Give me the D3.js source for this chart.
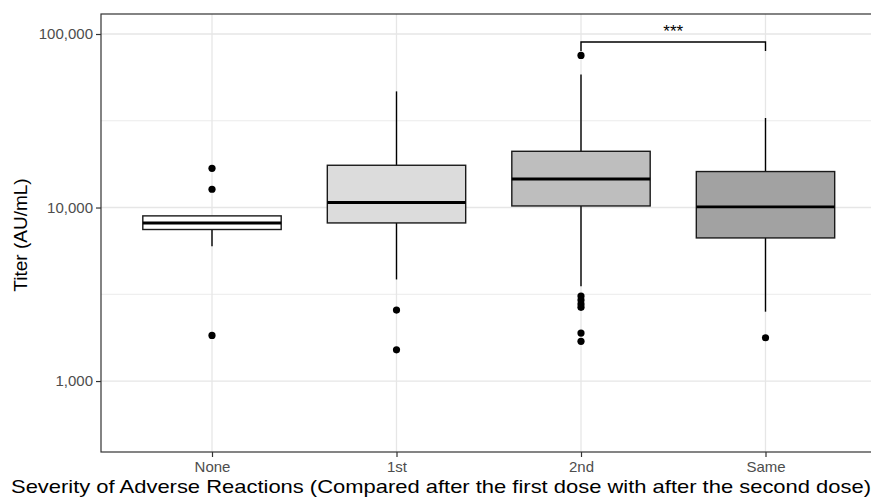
<!DOCTYPE html>
<html><head><meta charset="utf-8">
<script src="https://cdn.jsdelivr.net/npm/d3@7"></script>
<style>body{margin:0;background:#fff}svg{display:block;font-family:"Liberation Sans",Arial,sans-serif}</style>
</head><body><svg id="c" width="871" height="499"></svg>
<script>
const categories = ["None", "1st", "2nd", "Same"];
const fills = ["#ffffff", "#dcdcdc", "#bebebe", "#a2a2a2"];
const q1 = [7470, 8150, 10210, 6680];
const medians = [8150, 10690, 14610, 10080];
const q3 = [8950, 17520, 21090, 16120];
const whiskerLow = [5980, 3850, 3520, 2510];
const whiskerHigh = [8950, 46700, 58500, 32800];
const outliers = [
  [16830, 12740, 1833],
  [2564, 1513],
  [75300, 3090, 2930, 2780, 2660, 1890, 1693],
  [1776]
];
const yTicks = [1000, 10000, 100000];
const yMinor = [3162, 31623];
const sig = {from: "2nd", to: "Same", y: 90000, label: "***"};

const svg = d3.select("#c");
const L = 101, T = 14, B = 452, R = 876;
const x = d3.scalePoint().domain(categories).range([212, 765.5]);
const step = x.step();
const y = d3.scaleLog().domain([390, 130400]).range([B, T]);

const g = svg.append("g");
// grid
g.selectAll(".gmin").data(yMinor).join("line").attr("x1", L).attr("x2", R)
  .attr("y1", d => y(d)).attr("y2", d => y(d)).attr("stroke", "#ebebeb").attr("stroke-width", 1);
g.selectAll(".gmaj").data(yTicks).join("line").attr("x1", L).attr("x2", R)
  .attr("y1", d => y(d)).attr("y2", d => y(d)).attr("stroke", "#e6e6e6").attr("stroke-width", 1.3);
g.selectAll(".gx").data(categories).join("line").attr("y1", T).attr("y2", B)
  .attr("x1", d => x(d)).attr("x2", d => x(d)).attr("stroke", "#e6e6e6").attr("stroke-width", 1.3);

const bw = step * 0.75;
categories.forEach((c, i) => {
  const cx = x(c);
  g.append("line").attr("x1", cx).attr("x2", cx).attr("y1", y(q3[i])).attr("y2", y(whiskerHigh[i]))
    .attr("stroke", "#000").attr("stroke-width", 1.4);
  g.append("line").attr("x1", cx).attr("x2", cx).attr("y1", y(q1[i])).attr("y2", y(whiskerLow[i]))
    .attr("stroke", "#000").attr("stroke-width", 1.4);
  g.append("rect").attr("x", cx - bw / 2).attr("width", bw).attr("y", y(q3[i]))
    .attr("height", y(q1[i]) - y(q3[i])).attr("fill", fills[i]).attr("stroke", "#1a1a1a").attr("stroke-width", 1.4);
  g.append("line").attr("x1", cx - bw / 2).attr("x2", cx + bw / 2).attr("y1", y(medians[i])).attr("y2", y(medians[i]))
    .attr("stroke", "#000").attr("stroke-width", 2.9);
  g.selectAll(null).data(outliers[i]).join("circle").attr("cx", cx).attr("cy", d => y(d)).attr("r", 3.6).attr("fill", "#000");
});

// significance bracket
const sx1 = x(sig.from), sx2 = x(sig.to), sy = y(sig.y);
g.append("path").attr("d", `M${sx1},${sy + 9}V${sy}H${sx2}V${sy + 9}`).attr("fill", "none")
  .attr("stroke", "#000").attr("stroke-width", 1.4);
g.append("text").attr("x", (sx1 + sx2) / 2).attr("y", sy - 5).attr("text-anchor", "middle")
  .attr("font-size", 17).attr("fill", "#000").text(sig.label);

// border
g.append("rect").attr("x", L).attr("y", T).attr("width", R - L).attr("height", B - T)
  .attr("fill", "none").attr("stroke", "#333").attr("stroke-width", 1.2);

// axes
const ya = svg.append("g").attr("transform", `translate(${L},0)`)
  .call(d3.axisLeft(y).tickValues(yTicks).tickFormat(d3.format(",")).tickSize(5).tickPadding(3));
ya.select(".domain").remove();
ya.selectAll("line").attr("stroke", "#333").attr("stroke-width", 1.2);
ya.selectAll("text").attr("fill", "#4d4d4d").attr("font-size", 15).style("font-family", "Liberation Sans, Arial, sans-serif");
const xa = svg.append("g").attr("transform", `translate(0,${B})`)
  .call(d3.axisBottom(x).tickSize(5).tickPadding(4));
xa.select(".domain").remove();
xa.selectAll("line").attr("stroke", "#333").attr("stroke-width", 1.2);
xa.selectAll("text").attr("fill", "#4d4d4d").attr("font-size", 15).style("font-family", "Liberation Sans, Arial, sans-serif");

svg.append("text").attr("x", 11).attr("y", 493).attr("font-size", 18.5).attr("fill", "#000")
  .attr("textLength", 860).attr("lengthAdjust", "spacingAndGlyphs")
  .text("Severity of Adverse Reactions (Compared after the first dose with after the second dose)");
svg.append("text").attr("transform", "translate(27,235) rotate(-90)").attr("text-anchor", "middle")
  .attr("font-size", 19).attr("fill", "#000").text("Titer (AU/mL)");
</script></body></html>
